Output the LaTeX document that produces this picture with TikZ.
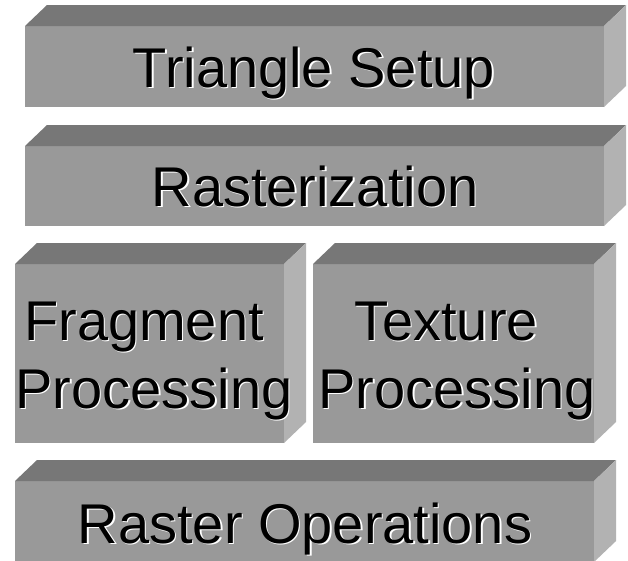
\documentclass[tikz,border=0pt]{standalone}
\usepackage{fontspec}
\setmainfont{Liberation Sans}
\definecolor{topc}{HTML}{777777}
\definecolor{frontc}{HTML}{999999}
\definecolor{sidec}{HTML}{B2B2B2}
\newcommand\blk[4]{%
  \fill[frontc] (#1,#2) rectangle (#3,#4);
  \fill[topc] (#1,#2) -- ++(22,-21) -- ({#3+22},{#2-21}) -- (#3,#2) -- cycle;
  \fill[sidec] (#3,#2) -- ({#3+22},{#2-21}) -- ({#3+22},{#4-21}) -- (#3,#4) -- cycle;
}
\newcommand\lbltext[4]{%
  \node[lbl, white] (#1-sh) at ({#2+1.5},{#3+1.5}) {#4};
  \node[lbl] (#1) at (#2,#3) {#4};
}
\begin{document}
\begin{tikzpicture}[x=1pt,y=-1pt,
  lbl/.style={font=\fontsize{56}{66}\selectfont, inner sep=0pt, anchor=base, text=black}]
\useasboundingbox (0,0) rectangle (628,560);
\clip (0,0) rectangle (628,560);
\fill[white] (0,0) rectangle (628,560);
\blk{25}{26}{604}{107}
\blk{25}{146}{604}{226}
\blk{15}{264}{284}{443}
\blk{313}{264}{594}{443}
\blk{15}{481}{594}{562}
\lbltext{ts}{314}{87}{Triangle Setup}
\lbltext{ras}{315}{206}{Rasterization}
\lbltext{frag1}{144}{340}{Fragment}
\lbltext{frag2}{154}{408}{Processing}
\lbltext{tex1}{446}{340}{Texture}
\lbltext{tex2}{457}{408}{Processing}
\lbltext{rop}{305}{543}{Raster Operations}
\end{tikzpicture}
\end{document}
